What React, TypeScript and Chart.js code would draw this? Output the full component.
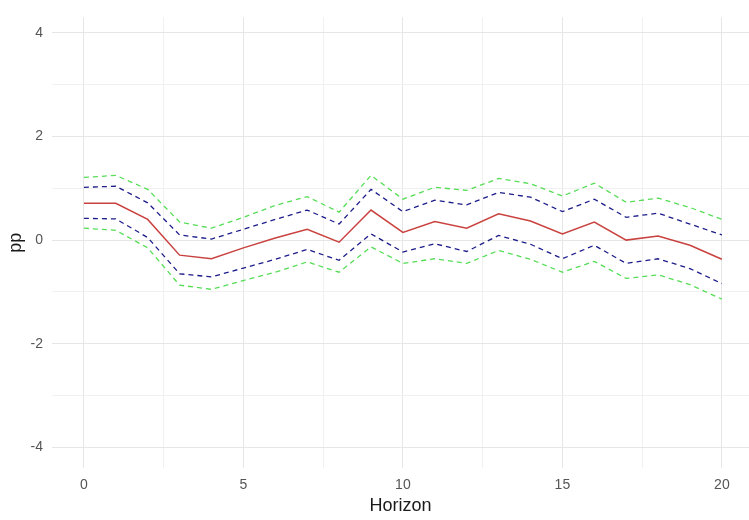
import React, { useEffect, useRef } from "react";
import { Chart, registerables } from "chart.js";

Chart.register(...registerables);

const horizon = [0, 1, 2, 3, 4, 5, 6, 7, 8, 9, 10, 11, 12, 13, 14, 15, 16, 17, 18, 19, 20];
const irf = [0.71, 0.71, 0.40, -0.29, -0.36, -0.15, 0.04, 0.21, -0.04, 0.58, 0.15, 0.36, 0.23, 0.51, 0.37, 0.12, 0.35, 0.0, 0.08, -0.1, -0.37];
const upper68 = [1.02, 1.04, 0.72, 0.10, 0.02, 0.21, 0.40, 0.58, 0.31, 0.98, 0.55, 0.77, 0.68, 0.92, 0.83, 0.55, 0.79, 0.44, 0.52, 0.31, 0.10];
const lower68 = [0.42, 0.41, 0.05, -0.65, -0.71, -0.54, -0.37, -0.18, -0.39, 0.12, -0.23, -0.07, -0.22, 0.09, -0.08, -0.36, -0.10, -0.45, -0.36, -0.55, -0.84];
const upper90 = [1.21, 1.25, 0.98, 0.35, 0.23, 0.44, 0.67, 0.84, 0.54, 1.25, 0.79, 1.02, 0.96, 1.19, 1.09, 0.85, 1.10, 0.73, 0.81, 0.63, 0.40];
const lower90 = [0.23, 0.19, -0.15, -0.87, -0.95, -0.78, -0.62, -0.42, -0.62, -0.13, -0.45, -0.36, -0.45, -0.20, -0.37, -0.62, -0.41, -0.74, -0.67, -0.86, -1.14];

const xTicks = [0, 2.5, 5, 7.5, 10, 12.5, 15, 17.5, 20];
const xLabels = [0, 5, 10, 15, 20];
const yTicks = [-4, -3, -2, -1, 0, 1, 2, 3, 4];
const yLabels = [-4, -2, 0, 2, 4];

const FONT = "'Liberation Sans', Arial, sans-serif";

function pts(vals: number[]) {
  return horizon.map((h, i) => ({ x: h, y: vals[i] }));
}

export default function App() {
  const ref = useRef<HTMLCanvasElement | null>(null);
  useEffect(() => {
    if (!ref.current) return;
    const green = "#55dd55";
    const blue = "#1c1c8a";
    const red = "#c9423f";
    const dashed = (label: string, vals: number[], color: string) => ({
      label,
      data: pts(vals),
      borderColor: color,
      borderWidth: 1.3,
      borderDash: [5, 4],
      pointRadius: 0,
      tension: 0,
      fill: false,
    });
    const chart = new Chart(ref.current, {
      type: "line",
      data: {
        datasets: [
          dashed("lower90", lower90, green),
          dashed("upper90", upper90, green),
          dashed("lower68", lower68, blue),
          dashed("upper68", upper68, blue),
          {
            label: "irf",
            data: pts(irf),
            borderColor: red,
            borderWidth: 1.5,
            pointRadius: 0,
            tension: 0,
            fill: false,
          },
        ],
      },
      options: {
        animation: false,
        responsive: false,
        events: [],
        layout: { padding: { top: 3, left: 0, right: 0, bottom: 0 } },
        plugins: { legend: { display: false }, tooltip: { enabled: false } },
        scales: {
          x: {
            type: "linear",
            min: -1,
            max: 20.85,
            afterBuildTicks: (s: any) => {
              s.ticks = xTicks.map((v) => ({ value: v }));
            },
            afterFit: (s: any) => {
              s.height = 52;
            },
            border: { display: false },
            grid: {
              drawTicks: false,
              color: (c: any) => (xLabels.includes(c.tick?.value) ? "#e6e6e6" : "#f0f0f0"),
              lineWidth: 1,
            },
            ticks: {
              padding: 9,
              autoSkip: false,
              maxRotation: 0,
              color: "#555",
              font: { family: FONT, size: 14 },
              callback: (v: any) => (xLabels.includes(Number(v)) ? String(v) : ""),
            },
            title: {
              display: true,
              text: "Horizon",
              color: "#1a1a1a",
              font: { family: FONT, size: 18 },
              padding: { top: 0, bottom: 3 },
            },
          },
          y: {
            type: "linear",
            min: -4.4,
            max: 4.3,
            afterBuildTicks: (s: any) => {
              s.ticks = yTicks.map((v) => ({ value: v }));
            },
            afterFit: (s: any) => {
              s.width = 52;
            },
            border: { display: false },
            grid: {
              drawTicks: false,
              color: (c: any) => (yLabels.includes(c.tick?.value) ? "#e6e6e6" : "#f0f0f0"),
              lineWidth: 1,
            },
            ticks: {
              padding: 9,
              autoSkip: false,
              color: "#555",
              font: { family: FONT, size: 14 },
              callback: (v: any) => (yLabels.includes(Number(v)) ? String(v) : ""),
            },
            title: {
              display: true,
              text: "pp",
              color: "#1a1a1a",
              font: { family: FONT, size: 18 },
              padding: { top: 5, bottom: 0 },
            },
          },
        },
      },
    });
    return () => chart.destroy();
  }, []);
  return (
    <div style={{ position: "absolute", left: 0, top: 0, width: 749, height: 520, background: "#fff" }}>
      <canvas ref={ref} width={749} height={520} style={{ display: "block" }} />
    </div>
  );
}
